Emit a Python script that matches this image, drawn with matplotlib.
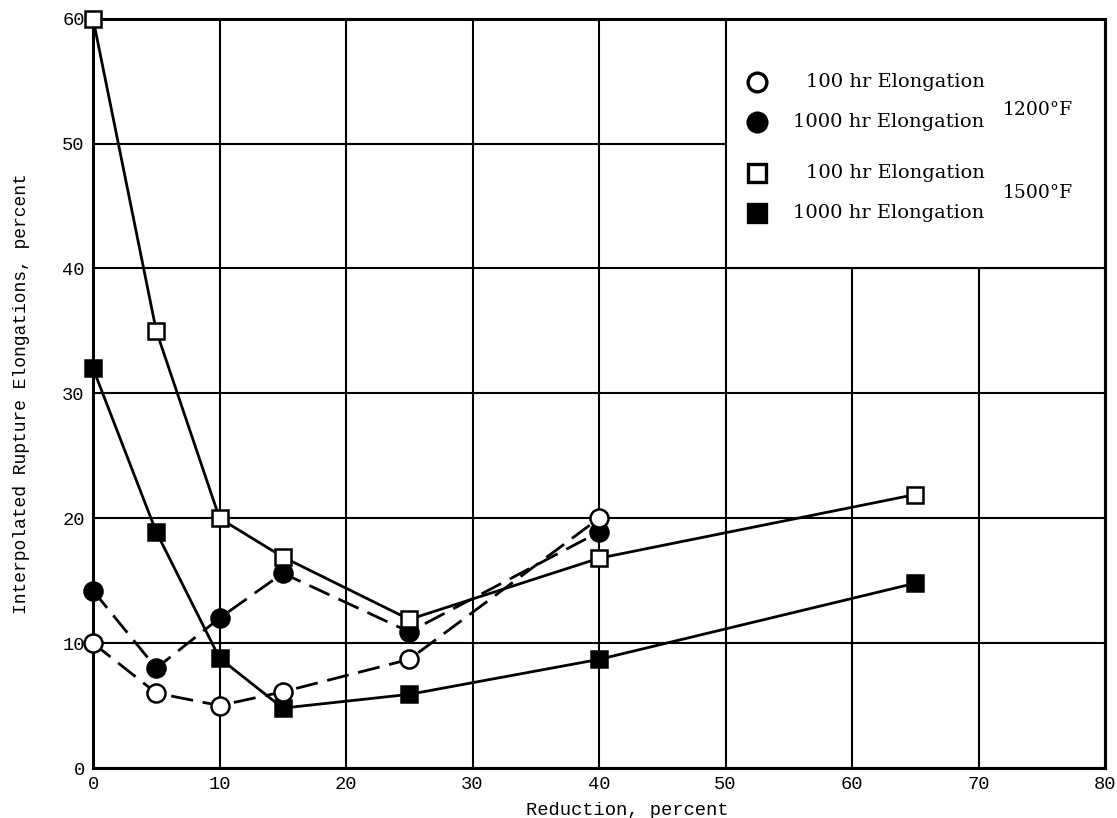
import matplotlib
matplotlib.use("Agg")
from matplotlib import pyplot as plt
from matplotlib.patches import Rectangle

# Reduction, percent
reduction_1200 = [0, 5, 10, 15, 25, 40]
reduction_1500 = [0, 5, 10, 15, 25, 40, 65]

# Interpolated rupture elongations, percent
elong_100hr_1200 = [10, 6, 5, 6.1, 8.7, 20]
elong_1000hr_1200 = [14.2, 8, 12, 15.6, 10.9, 18.9]
elong_100hr_1500 = [60, 35, 20, 16.9, 11.9, 16.8, 21.9]
elong_1000hr_1500 = [32, 18.9, 8.8, 4.8, 5.9, 8.7, 14.8]

legend_rows = ["100 hr Elongation", "1000 hr Elongation",
               "100 hr Elongation", "1000 hr Elongation"]
temps = ["1200°F", "1500°F"]

mono = "Liberation Mono"
serif = "DejaVu Serif"

fig = plt.figure(figsize=(11.17, 8.18), dpi=100)
ax = fig.add_axes([0.0833, 0.0611, 0.906, 0.916])

ax.set_xlim(0, 80)
ax.set_ylim(0, 60)
ax.set_xticks(range(0, 81, 10))
ax.set_yticks(range(0, 61, 10))
ax.tick_params(length=0, pad=6, labelsize=13.5)
for lbl in ax.get_xticklabels() + ax.get_yticklabels():
    lbl.set_fontfamily(mono)

ax.set_axisbelow(True)
ax.grid(color="black", linewidth=1.5)
for sp in ax.spines.values():
    sp.set_linewidth(2.2)

# blank panel for the key, covering the grid in the upper right
ax.add_patch(Rectangle((50, 40), 30, 20, facecolor="white",
                       edgecolor="black", linewidth=1.5, zorder=1))

dash = (0, (8, 3.5))
mk = dict(markeredgecolor="black", markeredgewidth=1.8, clip_on=False)

ax.plot(reduction_1500, elong_1000hr_1500, "-", color="black", lw=2,
        marker="s", ms=12, markerfacecolor="black", zorder=3, **mk)
ax.plot(reduction_1200, elong_1000hr_1200, linestyle=dash, color="black", lw=2,
        marker="o", ms=13, markerfacecolor="black", zorder=4, **mk)
ax.plot(reduction_1500, elong_100hr_1500, "-", color="black", lw=2,
        marker="s", ms=12, markerfacecolor="white", zorder=5, **mk)
ax.plot(reduction_1200, elong_100hr_1200, linestyle=dash, color="black", lw=2,
        marker="o", ms=13, markerfacecolor="white", zorder=6, **mk)

# key
row_y = [0.915, 0.862, 0.794, 0.741]
row_mk = [("o", "white"), ("o", "black"), ("s", "white"), ("s", "black")]
for y, (m, fc), txt in zip(row_y, row_mk, legend_rows):
    ax.plot([0.656], [y], marker=m, ms=13.5 if m == "o" else 12.5,
            markerfacecolor=fc, markeredgecolor="black", markeredgewidth=2.4,
            transform=ax.transAxes, zorder=7, clip_on=False)
    ax.text(0.881, y, txt, transform=ax.transAxes, ha="right", va="center",
            fontsize=14, family=serif, zorder=7)
for y, t in zip([0.878, 0.768], temps):
    ax.text(0.899, y, t, transform=ax.transAxes, ha="left", va="center",
            fontsize=13.5, family=serif, zorder=7)

ax.set_xlabel("Reduction, percent", family=mono, fontsize=13.5)
ax.xaxis.set_label_coords(0.528, -0.045)
ax.set_ylabel("Interpolated Rupture Elongations, percent", family=mono,
              fontsize=13)
ax.yaxis.set_label_coords(-0.062, 0.5)

fig.savefig("out.png", dpi=100)
